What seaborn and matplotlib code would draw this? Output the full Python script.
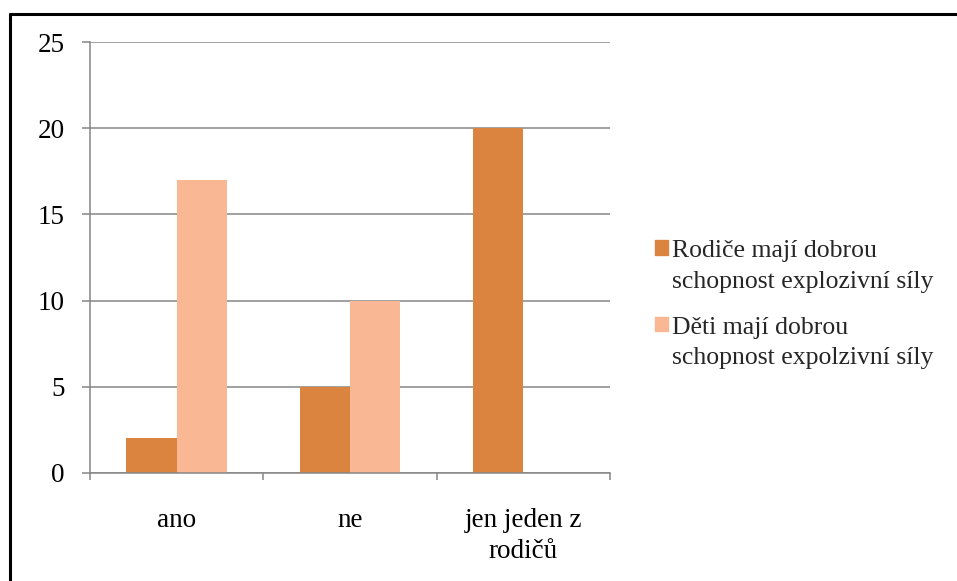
import matplotlib
matplotlib.use("Agg")
import matplotlib.pyplot as plt
from matplotlib.lines import Line2D
from matplotlib.patches import Rectangle
from matplotlib.legend_handler import HandlerPatch
import seaborn as sns
import pandas as pd

categories = ["ano", "ne", "jen jeden z\nrodičů"]
series_names = [
    "Rodiče mají dobrou\nschopnost explozivní síly",
    "Děti mají dobrou\nschopnost expolzivní síly",
]
parents = [2, 5, 20]
children = [17, 10, 0]
y_ticks = [0, 5, 10, 15, 20, 25]
colors = ["#DA843F", "#F9B793"]

df = pd.DataFrame({
    "kategorie": categories * 2,
    "hodnota": parents + children,
    "serie": [series_names[0]] * 3 + [series_names[1]] * 3,
})

sns.set_theme(style="white")
plt.rcParams["font.family"] = ["Liberation Serif", "DejaVu Serif"]

FS = 19.5
LEG_FS = 18.5

fig = plt.figure(figsize=(9.57, 5.81), dpi=100)
ax = fig.add_axes([0.094, 0.186, 0.5434, 0.7417])

sns.barplot(data=df, x="kategorie", y="hodnota", hue="serie",
            palette=colors, width=0.58, saturation=1, ax=ax,
            linewidth=0, legend=False)

ax.set_ylim(0, 25)
ax.set_yticks(y_ticks)
ax.set_xlim(-0.5, 2.5)
ax.set_xlabel("")
ax.set_ylabel("")
ax.grid(axis="y", color="#868686", linewidth=1.1)
ax.set_axisbelow(True)
for s in ["top", "right"]:
    ax.spines[s].set_visible(False)
for s in ["left", "bottom"]:
    ax.spines[s].set_color("#868686")
    ax.spines[s].set_linewidth(1.1)

ax.tick_params(axis="y", which="both", left=True, length=6, width=1.1,
               color="#868686", pad=12, labelsize=FS, labelcolor="black")
# category labels centred on groups, tick marks on the group boundaries
ax.set_xticks([0, 1, 2])
ax.set_xticklabels(categories, fontsize=FS, color="black", linespacing=1.35)
ax.tick_params(axis="x", which="major", bottom=False, pad=19)
ax.set_xticks([-0.5, 0.5, 1.5, 2.5], minor=True)
ax.tick_params(axis="x", which="minor", bottom=True, length=5, width=1.1,
               color="#868686")


def top_square(legend, orig_handle, xdescent, ydescent, width, height, fontsize):
    # square beside the first line of a two-line label
    return Rectangle((-xdescent, -ydescent + 0.72 * fontsize), width, height)


handles = [Rectangle((0, 0), 1, 1, color=c) for c in colors]
leg = ax.legend(handles, series_names, loc="center left",
                bbox_to_anchor=(1.0865, 0.39), frameon=False, fontsize=LEG_FS,
                borderpad=0, borderaxespad=0,
                handlelength=0.5, handleheight=0.5, handletextpad=0.16,
                labelspacing=0.94,
                handler_map={Rectangle: HandlerPatch(patch_func=top_square)})
for t in leg.get_texts():
    t.set_linespacing(1.5)

# outer chart frame: top and left edges
fig.add_artist(Line2D([9.5 / 957, 1.0], [1 - 13.5 / 581] * 2,
                      transform=fig.transFigure, color="black", linewidth=2.2))
fig.add_artist(Line2D([9.5 / 957] * 2, [0.0, 1 - 13.5 / 581],
                      transform=fig.transFigure, color="black", linewidth=2.2))

fig.savefig("out.png", dpi=100, facecolor="white")
